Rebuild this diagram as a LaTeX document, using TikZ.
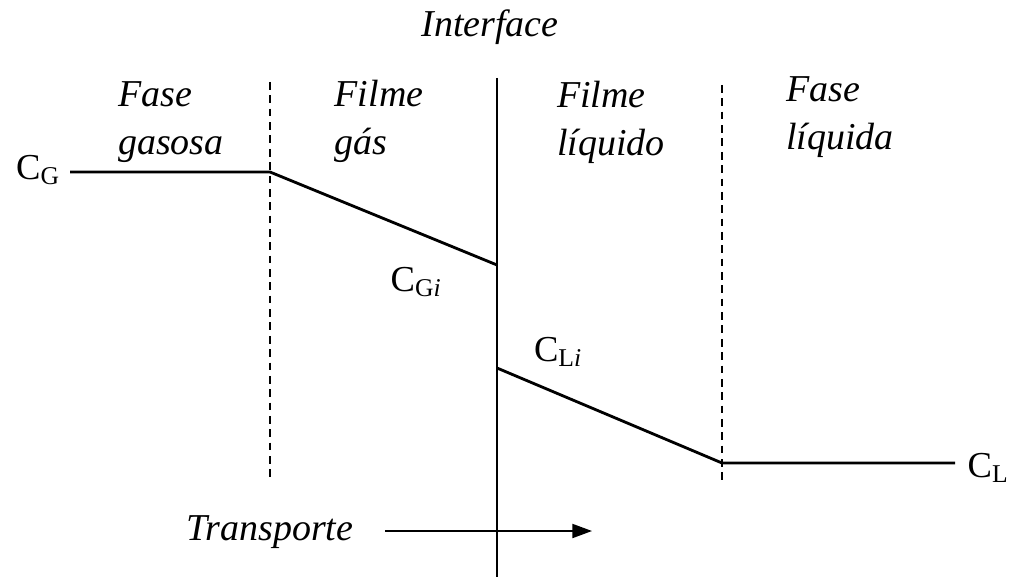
\documentclass[tikz,border=0pt]{standalone}
\usepackage{fontspec}
\setmainfont{Liberation Serif}
\usetikzlibrary{arrows.meta}

\begin{document}
\begin{tikzpicture}[x=0.025cm,y=-0.025cm,
		phase/.style={font=\fontsize{27}{34}\selectfont\itshape, align=left, inner sep=0pt},
		conc/.style={font=\fontsize{26}{30}\selectfont, inner sep=0pt},
		profile/.style={line width=2pt},
		border/.style={dash pattern=on 5.5pt off 4pt, line width=0.8pt}]
		\useasboundingbox (0,0) rectangle (1010,577);
		% film boundaries and interface
		\coordinate (d1t) at (270,82);
		\coordinate (d1b) at (270,480);
		\coordinate (d2t) at (722,85);
		\coordinate (d2b) at (722,485);
		\coordinate (itop) at (497,78);
		\coordinate (ibot) at (497,577);
		\draw [border] (d1t) -- (d1b);
		\draw [border] (d2t) -- (d2b);
		\draw [line width=1.4pt] (itop) -- (ibot);
		% concentration profile
		\coordinate (g0) at (70,172);
		\coordinate (g1) at (270,172);
		\coordinate (gi) at (497,265);
		\coordinate (li) at (497,368);
		\coordinate (l1) at (722,463);
		\coordinate (l0) at (955,463);
		\draw [profile] (g0) -- (g1) -- (gi);
		\draw [profile] (li) -- (l1) -- (l0);
		% labels
		\node [phase] (iface) at (490,27) {Interface};
		\node [phase] (fgas) at (171,122) {Fase\\gasosa};
		\node [phase] (mgas) at (379,121) {Filme\\gás};
		\node [phase] (mliq) at (611,122) {Filme\\líquido};
		\node [phase] (fliq) at (840,117) {Fase\\líquida};
		\node [conc] (cg) at (38,170) {C\textsubscript{G}};
		\node [conc] (cgi) at (416,282) {C\textsubscript{G\textit{i}}};
		\node [conc] (cli) at (558,352) {C\textsubscript{L\textit{i}}};
		\node [conc] (cl) at (988,468) {C\textsubscript{L}};
		% transport direction
		\node [phase] (trans) at (270,532) {Transporte};
		\coordinate (ta) at (385,531);
		\coordinate (tb) at (592,531);
		\draw [line width=1.3pt, -{Triangle[length=14pt, width=10pt]}] (ta) -- (tb);
	\end{tikzpicture}
\end{document}
